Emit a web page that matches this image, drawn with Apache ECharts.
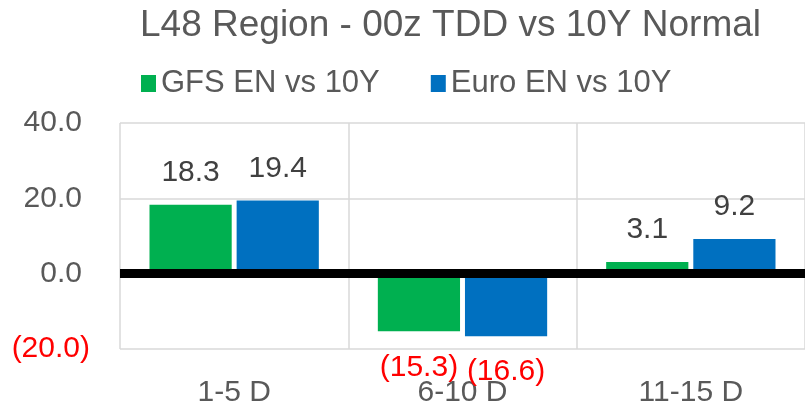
<!DOCTYPE html>
<html lang="en">
<head>
<meta charset="UTF-8" />
<title>L48 Region - 00z TDD vs 10Y Normal</title>
<style>
    * { box-sizing: border-box; margin: 0; padding: 0; }
    html, body { background: #fff; }
    #chart { width: 805px; height: 408px; }
</style>
</head>
<body>
<div id="chart"></div>
<script src="https://cdn.jsdelivr.net/npm/echarts@6/dist/echarts.min.js"></script>
<script>
    // data
    var categories = ['1-5 D', '6-10 D', '11-15 D'];
    var gfsValues = [18.3, -15.3, 3.1];
    var euroValues = [19.4, -16.6, 9.2];
    var seriesNames = ['GFS EN vs 10Y', 'Euro EN vs 10Y'];
    var yMin = -20, yMax = 40, yStep = 20;

    var GREEN = '#00B050';
    var BLUE = '#0070C0';
    var GRAY = '#595959';
    var RED = '#FF0000';
    var FONT = '"Liberation Sans", Arial, sans-serif';

    // negatives shown as (x.x) like excel accounting format
    function fmt(v) {
        return v < 0 ? '(' + Math.abs(v).toFixed(1) + ')' : v.toFixed(1);
    }

    function barData(values) {
        return values.map(function (v) {
            return {
                value: v,
                label: {
                    position: v < 0 ? 'bottom' : 'top',
                    distance: v < 0 ? 21 : 17,
                    color: v < 0 ? RED : '#404040'
                }
            };
        });
    }

    var chart = echarts.init(document.getElementById('chart'));
    chart.setOption({
        animation: false,
        textStyle: { fontFamily: FONT },
        title: {
            text: 'L48 Region - 00z TDD vs 10Y Normal',
            left: 140,
            top: 7,
            padding: 0,
            textStyle: { fontSize: 37, fontWeight: 'normal', color: GRAY, fontFamily: FONT }
        },
        legend: {
            data: seriesNames,
            left: 141,
            top: 68,
            padding: 0,
            icon: 'rect',
            itemWidth: 15,
            itemHeight: 17,
            itemGap: 51,
            textStyle: { fontSize: 31, color: GRAY, fontFamily: FONT }
        },
        grid: { left: 120, right: 0, top: 123, bottom: 59 },
        xAxis: {
            type: 'category',
            data: categories,
            axisLine: { show: false },
            axisTick: { show: false },
            axisLabel: { fontSize: 30, color: GRAY, margin: 29, fontFamily: FONT },
            splitLine: { show: true, interval: 0, lineStyle: { color: '#D9D9D9', width: 1.5 } }
        },
        yAxis: {
            type: 'value',
            min: yMin,
            max: yMax,
            interval: yStep,
            axisLine: { show: false },
            axisTick: { show: false },
            axisLabel: {
                margin: 30,
                fontSize: 30,
                fontFamily: FONT,
                formatter: function (v) {
                    return v < 0 ? '{neg|' + fmt(v) + '}' : '{pos|' + fmt(v) + '}';
                },
                rich: {
                    // positives leave room where the ")" would be
                    pos: { fontSize: 30, color: GRAY, fontFamily: FONT, padding: [0, 8, 0, 0] },
                    neg: { fontSize: 30, color: RED, fontFamily: FONT }
                }
            },
            splitLine: { lineStyle: { color: '#D9D9D9', width: 1.5 } }
        },
        series: [
            {
                name: seriesNames[0],
                type: 'bar',
                data: barData(gfsValues),
                barWidth: '36%',
                barGap: '6%',
                itemStyle: { color: GREEN },
                label: {
                    show: true,
                    fontSize: 30,
                    fontFamily: FONT,
                    formatter: function (p) { return fmt(p.value); }
                },
                // thick black zero line
                markLine: {
                    silent: true,
                    symbol: ['none', 'none'],
                    label: { show: false },
                    lineStyle: { color: '#000', width: 9, type: 'solid' },
                    data: [{ yAxis: 0 }]
                }
            },
            {
                name: seriesNames[1],
                type: 'bar',
                data: barData(euroValues),
                barWidth: '36%',
                barGap: '6%',
                itemStyle: { color: BLUE },
                label: {
                    show: true,
                    fontSize: 30,
                    fontFamily: FONT,
                    formatter: function (p) { return fmt(p.value); }
                }
            }
        ]
    });
</script>
</body>
</html>
